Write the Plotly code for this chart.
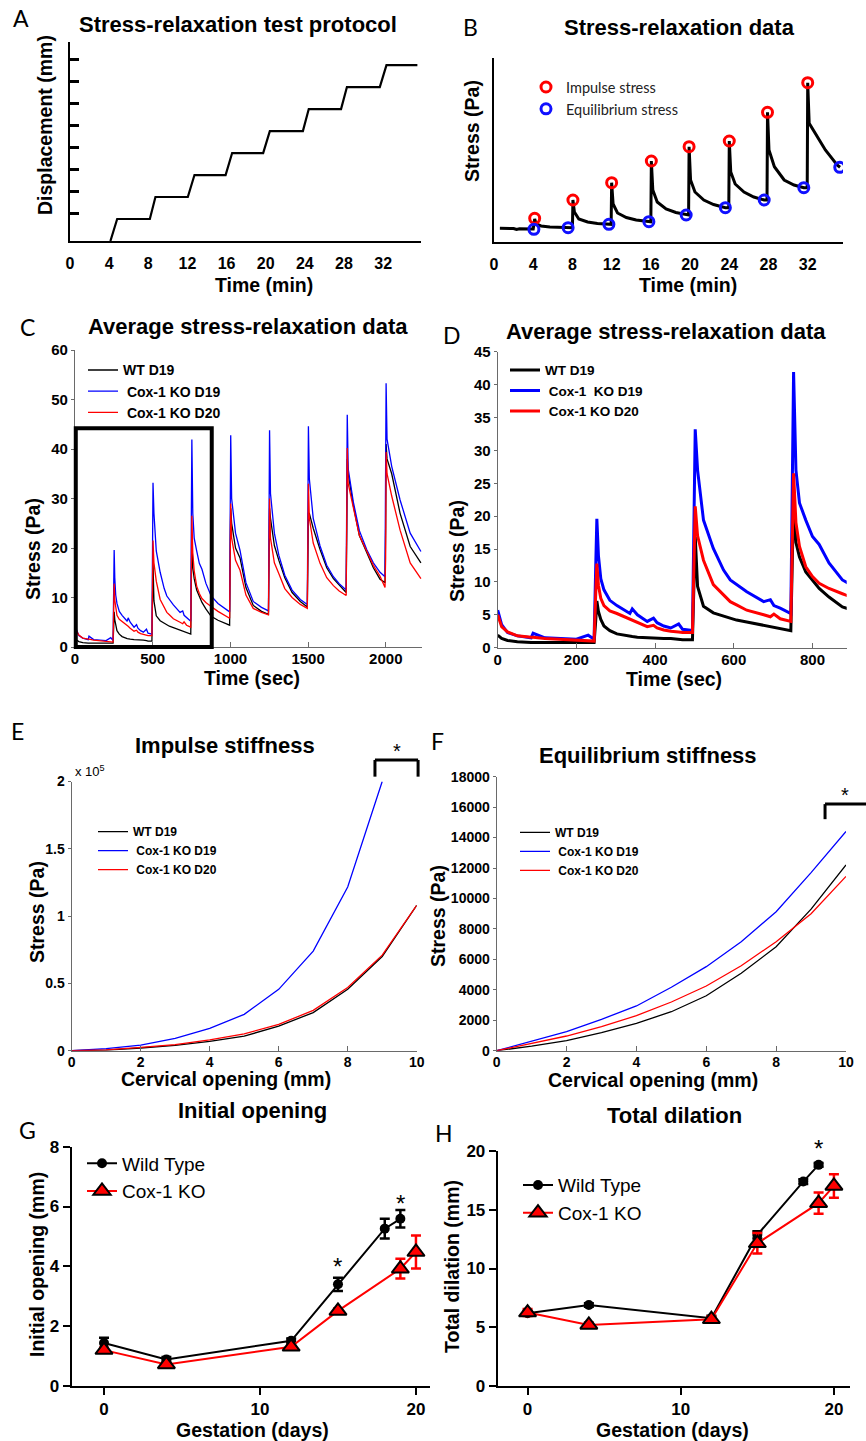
import plotly.graph_objects as go

W, H = 866, 1441

# ---------------- Panel A: protocol ----------------
protocol_time_min = [4.13, 4.82, 8.16, 8.73, 12.04, 12.72, 15.9, 16.57, 19.74, 20.42,
                     23.8, 24.4, 27.7, 28.3, 31.66, 32.34, 35.5]
protocol_disp = [0, 1, 1, 2, 2, 3, 3, 4, 4, 5, 5, 6, 6, 7, 7, 8, 8]
protocol_disp_ticks = [1.25, 2.25, 3.25, 4.25, 5.25, 6.25, 7.25, 8.25]
time_min_ticks = [0, 4, 8, 12, 16, 20, 24, 28, 32]

# ---------------- Panel B: single stress-relaxation record ----------------
b_time = [0.6, 2.0, 2.3, 2.6, 4.0, 4.15, 4.3, 4.8, 5.7, 7.56,
          8.0, 8.05, 8.2, 8.65, 9.55, 10.55, 11.72,
          11.95, 12.0, 12.15, 12.6, 13.5, 14.5, 15.8,
          16.0, 16.05, 16.2, 16.65, 17.55, 18.55, 19.6,
          19.85, 19.9, 20.05, 20.5, 21.4, 22.4, 23.6,
          23.95, 24.0, 24.15, 24.6, 25.5, 26.5, 27.56,
          27.85, 27.9, 28.05, 28.6, 29.6, 30.6, 31.6,
          31.95, 32.0, 32.15, 32.8, 33.8, 35.0, 35.3]
b_stress = [13.7, 13.5, 12.5, 13.3, 13.0, 23.0, 18.0, 16.0, 15.0, 14.3,
            14.3, 42.0, 30.0, 23.0, 20.0, 18.5, 17.7,
            17.7, 59.3, 38.0, 29.0, 24.5, 22.0, 20.3,
            20.3, 81.0, 52.0, 40.0, 33.0, 29.5, 27.0,
            27.0, 95.3, 62.0, 50.0, 42.0, 37.5, 34.3,
            34.3, 101.0, 70.0, 58.0, 50.0, 45.0, 42.0,
            42.0, 129.7, 92.0, 75.3, 62.0, 57.0, 54.3,
            54.3, 159.3, 118.7, 108.7, 92.0, 77.0, 74.7]
impulse_time = [4.15, 8.05, 12.0, 16.05, 19.9, 24.0, 27.9, 32.0]
impulse_stress = [23.7, 42.0, 59.3, 81.0, 95.3, 101.0, 129.7, 159.3]
equil_time = [4.07, 7.56, 11.72, 15.8, 19.6, 23.6, 27.56, 31.6, 35.27]
equil_stress = [12.7, 14.3, 17.7, 20.3, 27.0, 34.3, 42.0, 54.3, 74.7]

# ---------------- Panels C & D: average stress-relaxation ----------------
relax_sec = [0, 10, 25, 50, 85, 90, 120, 150, 200, 230, 245,
             249, 252, 256, 262, 270, 285, 303, 336, 342, 355, 380, 396, 405, 422, 440, 460, 470, 495,
             499, 502, 508, 523, 548, 574, 591, 607, 633, 676, 693, 702, 718, 745,
             749, 752, 758, 767, 783, 800, 817, 842, 876, 920, 995,
             999, 1002, 1008, 1033, 1062, 1100, 1147, 1200, 1245,
             1249, 1252, 1258, 1283, 1312, 1350, 1397, 1450, 1495,
             1499, 1502, 1508, 1533, 1577, 1620, 1663, 1700, 1745,
             1749, 1752, 1758, 1791, 1830, 1877, 1920, 1963, 1995,
             1999, 2002, 2008, 2038, 2092, 2157, 2226]
wt_d19 = [1.9, 1.4, 1.1, 0.9, 0.8, 0.8, 0.8, 0.8, 0.8, 0.8, 0.8,
          4.0, 7.1, 5.5, 4.3, 3.3, 2.6, 2.1, 1.7, 1.7, 1.6, 1.5, 1.5, 1.5, 1.4, 1.4, 1.3, 1.2, 1.2,
          10.0, 16.9, 9.3, 6.3, 5.3, 4.8, 4.5, 4.2, 3.9, 3.4, 3.2, 3.1, 2.9, 2.6,
          14.0, 22.4, 16.0, 13.8, 11.5, 10.3, 9.0, 7.7, 6.2, 5.4, 4.4,
          20.0, 28.0, 25.0, 20.0, 18.0, 12.0, 8.4, 7.2, 6.6,
          22.0, 28.0, 26.0, 20.5, 17.5, 14.0, 11.0, 9.2, 8.1,
          24.0, 27.0, 27.0, 24.0, 19.7, 16.0, 13.8, 12.5, 11.0,
          24.0, 38.0, 35.0, 28.6, 22.5, 19.0, 16.0, 13.7, 13.0,
          24.0, 41.0, 38.0, 35.0, 27.0, 20.3, 17.0]
cox_d19 = [5.7, 3.5, 2.3, 1.8, 1.5, 2.2, 1.5, 1.4, 1.3, 1.9, 1.3,
           12.0, 19.6, 14.0, 10.5, 8.8, 7.2, 6.4, 5.2, 5.9, 5.0, 4.0, 4.5, 3.8, 3.3, 3.0, 3.6, 2.8, 2.6,
           20.0, 33.2, 27.0, 19.4, 15.1, 11.8, 10.3, 9.6, 8.5, 7.0, 7.3, 6.4, 6.0, 5.2,
           28.0, 41.9, 27.0, 22.0, 19.4, 16.9, 15.7, 12.9, 10.3, 8.8, 7.1,
           30.0, 42.8, 30.0, 23.0, 19.5, 13.0, 9.2, 8.0, 7.3,
           32.0, 43.8, 31.0, 23.0, 18.5, 14.5, 11.5, 9.6, 8.6,
           32.0, 44.6, 34.0, 26.0, 20.4, 16.5, 14.2, 12.8, 11.5,
           28.0, 46.9, 36.0, 29.3, 23.5, 19.7, 17.0, 15.1, 14.2,
           28.0, 53.3, 42.0, 36.5, 29.7, 23.0, 19.3]
cox_d20 = [5.0, 3.2, 2.4, 1.8, 1.6, 1.6, 1.4, 1.3, 1.1, 1.0, 1.0,
           8.0, 12.8, 9.5, 7.5, 6.4, 5.6, 5.2, 4.3, 4.2, 3.8, 3.2, 3.4, 3.0, 2.7, 2.5, 2.4, 2.3, 2.3,
           14.0, 21.5, 17.0, 13.3, 9.6, 8.0, 7.0, 6.5, 5.7, 5.0, 4.7, 5.1, 4.4, 4.0,
           18.0, 26.5, 19.0, 15.4, 12.3, 10.8, 9.8, 9.0, 8.2, 7.2, 5.8,
           20.0, 29.0, 22.0, 17.5, 15.5, 10.5, 7.8, 7.0, 6.5,
           22.0, 30.0, 22.0, 17.0, 14.8, 11.8, 10.0, 8.6, 7.8,
           26.0, 33.0, 26.0, 21.0, 16.9, 14.0, 12.4, 11.3, 10.4,
           26.0, 40.2, 33.0, 27.9, 22.5, 19.4, 16.5, 14.3, 12.0,
           18.0, 39.4, 35.0, 30.5, 23.6, 17.0, 13.8]
c_xticks = [0, 500, 1000, 1500, 2000]
c_yticks = [0, 10, 20, 30, 40, 50, 60]
d_xticks = [0, 200, 400, 600, 800]
d_yticks = [0, 5, 10, 15, 20, 25, 30, 35, 40, 45]
zoom_box_sec = [5, 880]
zoom_box_stress_top = 44.2

# ---------------- Panels E & F: stiffness curves ----------------
opening_mm = [0, 1, 2, 3, 4, 5, 6, 7, 8, 9, 10]
opening_mm_cox19_impulse = [0, 1, 2, 3, 4, 5, 6, 7, 8, 9]
impulse_wt_d19 = [0, 500, 2000, 4000, 7000, 10800, 18300, 28300, 45600, 70000, 108000]
impulse_cox_d19 = [0, 1500, 4200, 9200, 16600, 27000, 45600, 74000, 121600, 200000]
impulse_cox_d20 = [0, 600, 2500, 4500, 8000, 12500, 19500, 30000, 47000, 71000, 108000]
equil_wt_d19 = [0, 300, 660, 1180, 1800, 2560, 3610, 5085, 6830, 9300, 12200]
equil_cox_d19 = [0, 600, 1250, 2060, 2940, 4170, 5520, 7160, 9130, 11700, 14400]
equil_cox_d20 = [0, 460, 965, 1580, 2300, 3200, 4250, 5580, 7160, 9000, 11450]
ef_xticks = [0, 2, 4, 6, 8, 10]
e_ytick_vals = [0, 50000, 100000, 150000, 200000]
e_ytick_text = ["0", "0.5", "1", "1.5", "2"]
f_yticks = [0, 2000, 4000, 6000, 8000, 10000, 12000, 14000, 16000, 18000]

# ---------------- Panels G & H: gestation ----------------
gest_wt = [0, 4, 12, 15, 18, 19]
gest_ko = [0, 4, 12, 15, 19, 20]
init_open_wt = [1.44, 0.89, 1.51, 3.4, 5.26, 5.59]
init_open_wt_err = [0.17, 0.08, 0.08, 0.22, 0.33, 0.29]
init_open_ko = [1.2, 0.72, 1.31, 2.51, 3.92, 4.48]
init_open_ko_err = [0.08, 0.05, 0.06, 0.08, 0.33, 0.55]
total_dil_wt = [6.19, 6.9, 5.77, 12.86, 17.4, 18.82]
total_dil_wt_err = [0.2, 0.15, 0.2, 0.3, 0.2, 0.15]
total_dil_ko = [6.25, 5.2, 5.68, 12.15, 15.56, 17.03]
total_dil_ko_err = [0.3, 0.2, 0.25, 0.88, 0.9, 1.0]
g_stars = [(15, 4.2), (19, 6.31)]
gest_ticks = [0, 10, 20]
g_yticks = [0, 2, 4, 6, 8]
h_yticks = [0, 5, 10, 15, 20]

# ---------------- helpers ----------------
def fx(px):
    return px / W

def fy(py):
    return 1 - py / H

def xdom(a, b):
    return [fx(a), fx(b)]

def ydom(top, bottom):
    return [fy(bottom), fy(top)]

ARIAL = "Liberation Sans, Arial, Helvetica, sans-serif"
CALI = "Lato, Open Sans, sans-serif"

layout = dict(width=W, height=H, margin=dict(l=0, r=0, t=0, b=0, autoexpand=False),
              paper_bgcolor='white', plot_bgcolor='white', showlegend=True)


def add_axes(n, xd, yd, xr, yr, xkw, ykw):
    s = '' if n == 1 else str(n)
    xa = dict(domain=xd, range=xr, anchor='y' + s, showgrid=False, zeroline=False,
              showline=True, fixedrange=True, automargin=False)
    ya = dict(domain=yd, range=yr, anchor='x' + s, showgrid=False, zeroline=False,
              showline=True, fixedrange=True, automargin=False)
    xa.update(xkw)
    ya.update(ykw)
    layout['xaxis' + s] = xa
    layout['yaxis' + s] = ya


def tfont(size):
    return dict(family=ARIAL, size=size, weight='bold', color='black')


AB_X = dict(linecolor='black', linewidth=2, ticks='outside', ticklen=7,
            tickcolor='rgba(0,0,0,0)', tickvals=time_min_ticks, tickfont=tfont(16))
MAT_COL = '#6a6a6a'


def mat(tickvals, ticks, ticklen, size, **kw):
    d = dict(linecolor=MAT_COL, linewidth=1.2, tickcolor=MAT_COL, ticks=ticks,
             ticklen=ticklen, tickwidth=1, tickvals=tickvals, tickfont=tfont(size),
             tickformat='d')
    d.update(kw)
    return d


def gp(tickvals):
    return dict(linecolor='black', linewidth=2, ticks='outside', ticklen=7, tickwidth=2,
                tickcolor='black', tickvals=tickvals, tickfont=tfont(17))


# A
add_axes(1, xdom(70, 421), ydom(42, 241), [0, 35.87], [0, 9.05], AB_X,
         dict(linecolor='black', linewidth=2, ticks='inside', ticklen=9, tickwidth=3,
              tickcolor='black', tickvals=protocol_disp_ticks, showticklabels=False))
# B
add_axes(2, xdom(494, 843), ydom(58, 242), [0, 35.6], [0, 184], AB_X,
         dict(linecolor='black', linewidth=2, ticks='', showticklabels=False))
# C
add_axes(3, xdom(75, 422), ydom(350, 647), [0, 2233], [0, 60],
         mat(c_xticks, 'inside', 5, 15, ticklabelstandoff=-2), mat(c_yticks, 'outside', 3, 15))
# D
add_axes(4, xdom(497.7, 846.7), ydom(351.7, 647.7), [0, 887], [0, 45],
         mat(d_xticks, 'inside', 5, 15, ticklabelstandoff=-2), mat(d_yticks, 'outside', 3, 15))
# E
add_axes(5, xdom(71.7, 416.7), ydom(781.5, 1050.7), [0, 10], [0, 200000],
         mat(ef_xticks, 'inside', 5, 14, ticklabelstandoff=-2),
         mat(e_ytick_vals, 'outside', 3, 14, ticktext=e_ytick_text))
# F
add_axes(6, xdom(496.7, 846), ydom(776.7, 1050.7), [0, 10], [0, 18000],
         mat(ef_xticks, 'inside', 5, 14, ticklabelstandoff=-2), mat(f_yticks, 'outside', 3, 14))
# G
add_axes(7, xdom(71.7, 430), ydom(1146.7, 1386), [-2.07, 20.9], [0, 8],
         gp(gest_ticks), gp(g_yticks))
# H
add_axes(8, xdom(497.7, 850), ydom(1151, 1386), [-1.95, 21.05], [0, 20],
         gp(gest_ticks), gp(h_yticks))


def make_legend(left_px, first_center_px, fs, family, weight, color='black'):
    h = max(1.3 * fs, 16) + 3
    top = first_center_px - h / 2 - 5
    return dict(x=fx(left_px), y=fy(top), xanchor='left', yanchor='top',
                bgcolor='rgba(0,0,0,0)', borderwidth=0, traceorder='normal',
                font=dict(size=fs, family=family, weight=weight, color=color),
                itemclick=False, itemdoubleclick=False)


layout['legend'] = make_legend(526, 87, 14.5, CALI, 'normal', '#222222')
layout['legend2'] = make_legend(83, 370, 14, ARIAL, 'bold')
layout['legend3'] = make_legend(505, 370, 13.5, ARIAL, 'bold')
layout['legend4'] = make_legend(93, 831.7, 12, ARIAL, 'bold')
layout['legend5'] = make_legend(515, 832.3, 12, ARIAL, 'bold')
layout['legend6'] = make_legend(82, 1163.3, 19, ARIAL, 'normal')
layout['legend7'] = make_legend(518, 1185, 19, ARIAL, 'normal')

fig = go.Figure()
NB = '\u00a0'

# A trace
fig.add_trace(go.Scatter(x=protocol_time_min, y=protocol_disp, mode='lines',
                         line=dict(color='black', width=2.2), xaxis='x', yaxis='y',
                         showlegend=False, hoverinfo='skip'))
# B traces
fig.add_trace(go.Scatter(x=b_time, y=b_stress, mode='lines',
                         line=dict(color='black', width=3), xaxis='x2', yaxis='y2',
                         showlegend=False, hoverinfo='skip'))
fig.add_trace(go.Scatter(x=impulse_time, y=impulse_stress, mode='markers', name='Impulse stress',
                         marker=dict(symbol='circle-open', size=10, color='#ff0000',
                                     line=dict(width=3, color='#ff0000')),
                         xaxis='x2', yaxis='y2', legend='legend'))
fig.add_trace(go.Scatter(x=equil_time, y=equil_stress, mode='markers', name='Equilibrium stress',
                         marker=dict(symbol='circle-open', size=10, color='#1010ff',
                                     line=dict(width=3, color='#1010ff')),
                         xaxis='x2', yaxis='y2', legend='legend'))

# C & D traces
series_cd = [('WT D19', 'WT D19', wt_d19, 'black'),
             (NB + 'Cox-1 KO D19', NB + 'Cox-1' + NB + NB + 'KO D19', cox_d19, '#0000ff'),
             (NB + 'Cox-1 KO D20', NB + 'Cox-1 KO D20', cox_d20, '#ff0000')]
for name_c, name_d, vals, col in series_cd:
    fig.add_trace(go.Scatter(x=relax_sec, y=vals, mode='lines', name=name_c,
                             line=dict(color=col, width=1.3), xaxis='x3', yaxis='y3',
                             legend='legend2'))
for name_c, name_d, vals, col in series_cd:
    fig.add_trace(go.Scatter(x=relax_sec, y=vals, mode='lines', name=name_d,
                             line=dict(color=col, width=3), xaxis='x4', yaxis='y4',
                             legend='legend3'))

# E traces
fig.add_trace(go.Scatter(x=opening_mm, y=impulse_wt_d19, mode='lines', name='WT D19',
                         line=dict(color='black', width=1.3), xaxis='x5', yaxis='y5', legend='legend4'))
fig.add_trace(go.Scatter(x=opening_mm_cox19_impulse, y=impulse_cox_d19, mode='lines',
                         name=NB + 'Cox-1 KO D19',
                         line=dict(color='#0000ff', width=1.3), xaxis='x5', yaxis='y5', legend='legend4'))
fig.add_trace(go.Scatter(x=opening_mm, y=impulse_cox_d20, mode='lines', name=NB + 'Cox-1 KO D20',
                         line=dict(color='#ff0000', width=1.3), xaxis='x5', yaxis='y5', legend='legend4'))
# F traces
fig.add_trace(go.Scatter(x=opening_mm, y=equil_wt_d19, mode='lines', name='WT D19',
                         line=dict(color='black', width=1.3), xaxis='x6', yaxis='y6', legend='legend5'))
fig.add_trace(go.Scatter(x=opening_mm, y=equil_cox_d19, mode='lines', name=NB + 'Cox-1 KO D19',
                         line=dict(color='#0000ff', width=1.3), xaxis='x6', yaxis='y6', legend='legend5'))
fig.add_trace(go.Scatter(x=opening_mm, y=equil_cox_d20, mode='lines', name=NB + 'Cox-1 KO D20',
                         line=dict(color='#ff0000', width=1.3), xaxis='x6', yaxis='y6', legend='legend5'))

# G & H traces
for xa, ya, lg, ywt, ewt, yko, eko in [('x7', 'y7', 'legend6', init_open_wt, init_open_wt_err,
                                        init_open_ko, init_open_ko_err),
                                       ('x8', 'y8', 'legend7', total_dil_wt, total_dil_wt_err,
                                        total_dil_ko, total_dil_ko_err)]:
    fig.add_trace(go.Scatter(x=gest_wt, y=ywt, mode='lines+markers', name='Wild Type',
                             line=dict(color='black', width=2),
                             marker=dict(symbol='circle', size=10, color='black'),
                             error_y=dict(type='data', array=ewt, color='black', thickness=2.5, width=5),
                             xaxis=xa, yaxis=ya, legend=lg))
    fig.add_trace(go.Scatter(x=gest_ko, y=yko, mode='lines+markers', name='Cox-1 KO',
                             line=dict(color='#ff0000', width=2),
                             marker=dict(symbol='triangle-up', size=15, color='#ff0000',
                                         line=dict(color='black', width=2)),
                             error_y=dict(type='data', array=eko, color='#ff0000', thickness=2.5, width=5),
                             xaxis=xa, yaxis=ya, legend=lg))

# ---------------- annotations ----------------
ann = []


def txt(text, x, y, size, weight='bold', family=ARIAL, angle=0, xanchor='center', color='black'):
    ann.append(dict(text=text, x=fx(x), y=fy(y), xref='paper', yref='paper', showarrow=False,
                    xanchor=xanchor, yanchor='middle', textangle=angle,
                    font=dict(size=size, family=family, weight=weight, color=color)))


# panel letters
for letter, x, y in [('A', 21, 18), ('B', 470, 27), ('C', 27, 327), ('D', 452, 335),
                     ('E', 17, 731), ('F', 437, 741), ('G', 27, 1130), ('H', 444, 1133)]:
    txt(letter, x, y, 23, weight='normal', family=CALI)

# titles
for t, x, y in [('Stress-relaxation test protocol', 237.5, 25),
                ('Stress-relaxation data', 679, 28),
                ('Average stress-relaxation data', 247.5, 326),
                ('Average stress-relaxation data', 666, 332),
                ('Impulse stiffness', 225, 745),
                ('Equilibrium stiffness', 648, 755),
                ('Initial opening', 252, 1110),
                ('Total dilation', 674, 1115)]:
    txt(t, x, y, 22)

# axis titles
for t, x, y, ang in [('Displacement (mm)', 45, 125, -90), ('Time (min)', 264, 285, 0),
                     ('Stress (Pa)', 472, 131, -90), ('Time (min)', 687.5, 285, 0),
                     ('Stress (Pa)', 33, 549, -90), ('Time (sec)', 252, 678, 0),
                     ('Stress (Pa)', 457, 551, -90), ('Time (sec)', 674, 679, 0),
                     ('Stress (Pa)', 37, 912, -90), ('Cervical opening (mm)', 226, 1079, 0),
                     ('Stress (Pa)', 438, 916, -90), ('Cervical opening (mm)', 653, 1080, 0),
                     ('Initial opening (mm)', 37, 1265, -90), ('Gestation (days)', 252.5, 1430, 0),
                     ('Total dilation (mm)', 452, 1267, -90), ('Gestation (days)', 672.5, 1430, 0)]:
    txt(t, x, y, 19.5, angle=ang)

# exponent label for E
txt('x 10<sup>5</sup>', 73, 771, 13, weight='normal', xanchor='left')

# significance stars
STAR = dict(showarrow=False, xanchor='center', yanchor='middle')
for (gx, gy) in g_stars:
    ann.append(dict(text='*', x=gx, y=gy, xref='x7', yref='y7', yshift=-6,
                    font=dict(size=24, family=ARIAL, color='black'), **STAR))
ann.append(dict(text='*', x=19, y=1.035, xref='x8', yref='y8 domain', yshift=-6,
                font=dict(size=24, family=ARIAL, color='black'), **STAR))
ann.append(dict(text='*', x=9.43, y=1.132, xref='x5', yref='y5 domain', yshift=-5,
                font=dict(size=20, family=ARIAL, color='black'), **STAR))
ann.append(dict(text='*', x=9.96, y=0.951, xref='x6', yref='y6 domain', yshift=-5,
                font=dict(size=20, family=ARIAL, color='black'), **STAR))
layout['annotations'] = ann

# ---------------- shapes ----------------
shapes = []
shapes.append(dict(type='rect', xref='x3 domain', yref='y3 domain',
                   x0=zoom_box_sec[0] / 2233, x1=zoom_box_sec[1] / 2233,
                   y0=0, y1=zoom_box_stress_top / 60,
                   line=dict(color='black', width=4), fillcolor='rgba(0,0,0,0)'))


def bracket(xref, yref, x0, x1, ylow, yhigh):
    ln = dict(color='black', width=3)
    shapes.append(dict(type='line', xref=xref, yref=yref, x0=x0, x1=x0, y0=ylow, y1=yhigh, line=ln))
    shapes.append(dict(type='line', xref=xref, yref=yref, x0=x1, x1=x1, y0=ylow, y1=yhigh, line=ln))
    shapes.append(dict(type='line', xref=xref, yref=yref, x0=x0, x1=x1, y0=yhigh, y1=yhigh, line=ln))


bracket('x5 domain', 'y5 domain', 0.879, 1.004, 1.018, 1.080)
bracket('x6 domain', 'y6 domain', 0.940, 1.25, 0.845, 0.900)
layout['shapes'] = shapes

fig.update_layout(**layout)
fig.write_html('out.html', config={'displayModeBar': False, 'staticPlot': False},
               post_script="document.body.style.margin='0px';document.body.style.overflow='hidden';")
